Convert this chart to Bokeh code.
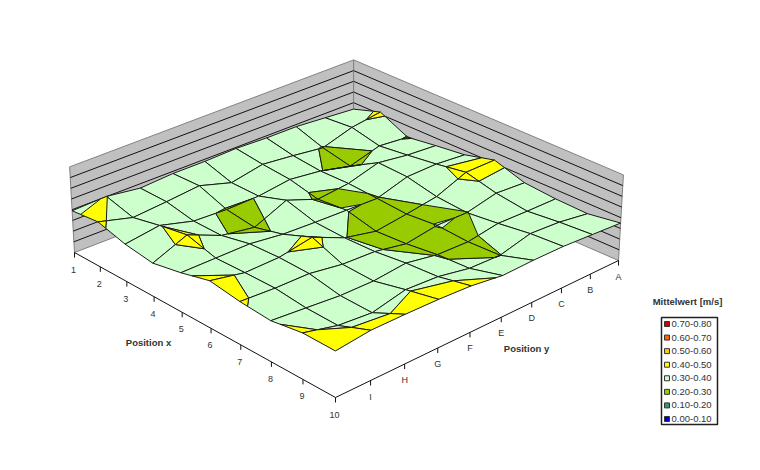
from bokeh.plotting import figure
from bokeh.models import Range1d
from bokeh.embed import file_html
from bokeh.resources import INLINE
from bokeh.core.properties import value
import numpy as np

x_ticks = ["1","2","3","4","5","6","7","8","9","10"]
y_ticks = ["A","B","C","D","E","F","G","H","I",""]
legend_labels = ["0.70-0.80","0.60-0.70","0.50-0.60","0.40-0.50","0.30-0.40","0.20-0.30","0.10-0.20","0.00-0.10"]
legend_colors = ["#CC0000","#FF6600","#FFCC00","#FFFF00","#CCFFCC","#99CC00","#339966","#0000CC"]
band_lows = [0.7,0.6,0.5,0.4,0.3,0.2,0.1,0.0]
draw_order = [4,5,6,7,3,2,1,0]
pos1  = [.34,.36,.38,.38,.39,.38,.38,.36,.402,.39]
pos2  = [.42,.38,.295,.33,.36,.302,.39,.36,.335,.42]
pos3  = [.295,.32,.24,.305,.34,.301,.295,.31,.395,.35]
pos4  = [.33,.35,.39,.31,.28,.39,.26,.31,.445,.314]
pos5  = [.36,.385,.38,.295,.305,.315,.33,.37,.37,.37]
pos6  = [.43,.43,.32,.277,.24,.305,.44,.385,.38,.445]
pos7  = [.34,.36,.298,.303,.258,.315,.33,.38,.385,.405]
pos8  = [.315,.32,.33,.285,.295,.35,.32,.325,.355,.385]
pos9  = [.305,.35,.37,.298,.31,.37,.39,.32,.35,.435]
pos10 = [.35,.37,.39,.395,.39,.435,.455,.465,.47,.435]
Z = [pos1,pos2,pos3,pos4,pos5,pos6,pos7,pos8,pos9,pos10]

c00,c10,c01,c11 = (353,145),(618,260),(74,252),(335,397)
def homog():
    A=[];b=[]
    for (u,v),(x,y) in {(0,0):c00,(1,0):c10,(0,1):c01,(1,1):c11}.items():
        A.append([u,v,1,0,0,0,-u*x,-v*x]);b.append(x)
        A.append([0,0,0,u,v,1,-u*y,-v*y]);b.append(y)
    s=np.linalg.solve(np.array(A,float),np.array(b,float))
    return np.append(s,1).reshape(3,3)
H=homog()
def P(u,v,z=0.0):
    q=H@np.array([u,v,1.0]); x0,y0=q[0]/q[2],q[1]/q[2]
    return 345+(x0-345)*(1+0.0225*z), y0-107*z

p=figure(width=744,height=454,x_range=Range1d(0,744),y_range=Range1d(454,0),toolbar_location=None,output_backend="svg",min_border=0)
p.axis.visible=False;p.grid.visible=False;p.outline_line_color=None
for wall in [lambda t,z:P(0,t,z),lambda t,z:P(t,0,z)]:
    xs,ys=zip(*[wall(1,0),wall(0,0),wall(0,.8),wall(1,.8)])
    p.patch(list(xs),list(ys),fill_color="#C0C0C0",line_color="#808080",line_width=1)
    for k in range(1,8):
        a=wall(0,k/10);b=wall(1,k/10)
        p.line([a[0],b[0]],[a[1],b[1]],line_color="#111111",line_width=1)

def clip(poly,lo,hi):
    def half(poly,f):
        out=[]
        for a,b in zip(poly,poly[1:]+poly[:1]):
            fa,fb=f(a),f(b)
            if fa>=0: out.append(a)
            if fa*fb<0:
                t=fa/(fa-fb); out.append(tuple(a[k]+t*(b[k]-a[k]) for k in range(3)))
        return out
    poly=half(poly,lambda q:q[2]-lo)
    if poly: poly=half(poly,lambda q:hi-q[2])
    return poly
fx,fy,fc=[],[],[]
for i in range(9):
    for j in range(9):
        q=[(i/9,j/9,Z[i][j]),((i+1)/9,j/9,Z[i+1][j]),((i+1)/9,(j+1)/9,Z[i+1][j+1]),(i/9,(j+1)/9,Z[i][j+1])]
        for b in draw_order:
            c=clip(q,band_lows[b],band_lows[b]+0.1)
            if len(c)>=3:
                pts=[P(*r) for r in c]
                fx.append([a for a,_ in pts]);fy.append([e for _,e in pts]);fc.append(legend_colors[b])
p.patches(fx,fy,fill_color=fc,line_color="#1a1a1a",line_width=1)

for a,b in [(P(0,1),P(1,1)),(P(1,1),P(1,0))]:
    p.line([a[0],b[0]],[a[1],b[1]],line_color="#111111",line_width=1)
for k in range(10):
    a=P(k/9,1); p.line([a[0],a[0]],[a[1],a[1]+5],line_color="#111111")
    p.text([a[0]-1],[a[1]+17],text=[x_ticks[k]],text_font=value("Liberation Sans"),text_font_size="9px",text_color="#333333",text_align="center",text_baseline="middle")
    a=P(1,k/9)
    if k<9:
        p.line([a[0],a[0]],[a[1],a[1]+5],line_color="#111111")
        p.text([a[0]],[a[1]+16],text=[y_ticks[k]],text_font=value("Liberation Sans"),text_font_size="9px",text_color="#333333",text_align="center",text_baseline="middle")
tt=dict(text_font=value("Liberation Sans"),text_font_style="bold",text_font_size="9.5px",text_color="#333333",text_align="center",text_baseline="middle")
p.text([148],[342],text=["Position x"],**tt)
p.text([526],[348],text=["Position y"],**tt)
p.text([687],[301],text=["Mittelwert [m/s]"],**tt)
p.quad(left=[661],right=[717],top=[317],bottom=[424],fill_color="white",line_color="#222222",line_width=1.5)
for k,(l,c) in enumerate(zip(legend_labels,legend_colors)):
    yy=323.5+k*13.57
    p.quad(left=[664],right=[669],top=[yy-2.5],bottom=[yy+2.5],fill_color=c,line_color="#333333")
    p.text([671],[yy],text=[l],text_font=value("Liberation Sans"),text_font_size="9.5px",text_color="#333333",text_align="left",text_baseline="middle")
open("out.html","w").write(file_html(p,INLINE))
